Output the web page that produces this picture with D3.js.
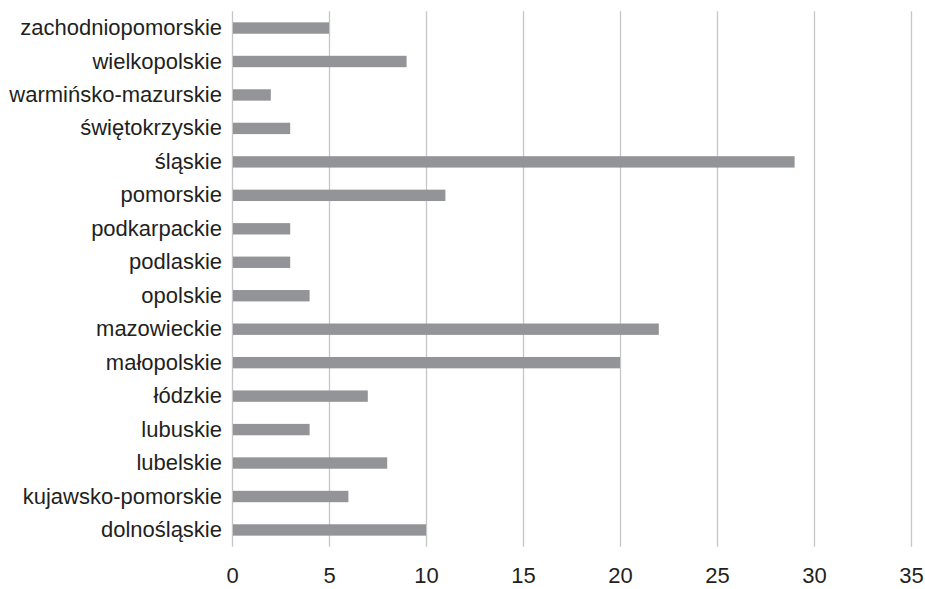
<!DOCTYPE html>
<html>
<head>
<meta charset="utf-8">
<script src="https://cdn.jsdelivr.net/npm/d3@7"></script>
<style>
  html, body { margin: 0; padding: 0; background: #fff; }
  svg { display: block; }
  text { font-family: "Liberation Sans", Arial, sans-serif; fill: #231f20; }
</style>
</head>
<body>
<svg id="chart" width="925" height="589"></svg>
<script>
// Voivodeships, top to bottom
const categories = [
  "zachodniopomorskie", "wielkopolskie", "warmińsko-mazurskie", "świętokrzyskie",
  "śląskie", "pomorskie", "podkarpackie", "podlaskie", "opolskie", "mazowieckie",
  "małopolskie", "łódzkie", "lubuskie", "lubelskie", "kujawsko-pomorskie", "dolnośląskie"
];
const values = [5, 9, 2, 3, 29, 11, 3, 3, 4, 22, 20, 7, 4, 8, 6, 10];
const xTicks = [0, 5, 10, 15, 20, 25, 30, 35];

const svg = d3.select("#chart");
const margin = { top: 11.3, right: 14, bottom: 42.3, left: 232 };
const height = 589 - margin.top - margin.bottom;
const fontSize = 22;

const x = d3.scaleLinear().domain([0, 35]).range([0, 679]);
const y = d3.scaleBand().domain(categories).range([0, height]).paddingInner(0.66).paddingOuter(0.33);

const g = svg.append("g").attr("transform", `translate(${margin.left},${margin.top})`);

// vertical grid lines (including the zero axis)
g.append("g")
  .selectAll("line")
  .data(xTicks)
  .join("line")
  .attr("x1", d => Math.round(x(d)) + 0.5)
  .attr("x2", d => Math.round(x(d)) + 0.5)
  .attr("y1", 0)
  .attr("y2", height)
  .attr("stroke", "#c6c6c6")
  .attr("stroke-width", 1.3);

// bars
g.append("g")
  .selectAll("rect")
  .data(categories)
  .join("rect")
  .attr("x", x(0) + 1)
  .attr("y", d => y(d))
  .attr("width", (d, i) => x(values[i]) - x(0) - 1)
  .attr("height", y.bandwidth())
  .attr("fill", "#939497");

// category labels
const yAxis = g.append("g").call(d3.axisLeft(y).tickSize(0).tickPadding(10));
yAxis.select(".domain").remove();
yAxis.selectAll("text")
  .attr("font-size", fontSize)
  .attr("fill", "#231f20")
  .style("font-family", "'Liberation Sans', Arial, sans-serif");

// value axis labels
const xAxis = g.append("g")
  .attr("transform", `translate(0,${height})`)
  .call(d3.axisBottom(x).tickValues(xTicks).tickSize(0).tickPadding(21));
xAxis.select(".domain").remove();
xAxis.selectAll("text")
  .attr("font-size", fontSize)
  .attr("fill", "#231f20")
  .style("font-family", "'Liberation Sans', Arial, sans-serif");
</script>
</body>
</html>
